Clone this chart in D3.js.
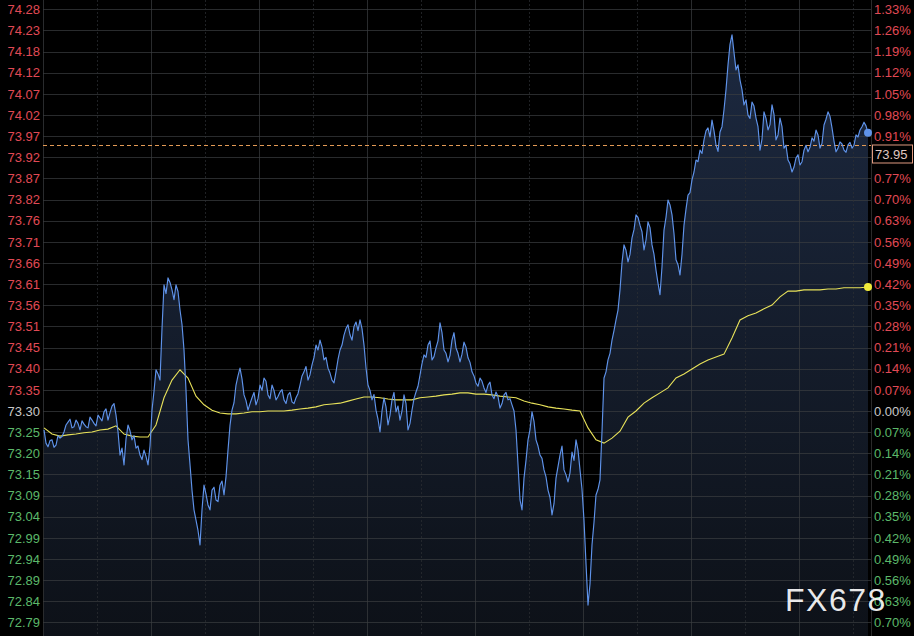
<!DOCTYPE html>
<html>
<head>
<meta charset="utf-8">
<script src="https://cdn.jsdelivr.net/npm/d3@7/dist/d3.min.js"></script>
<style>
html,body{margin:0;padding:0;background:#000;}
svg{display:block;}
text{font-family:"Liberation Sans",Arial,sans-serif;}
</style>
</head>
<body>
<svg id="chart" width="914" height="636"></svg>
<script>
// ---- data ----
const basePrice = 73.30;
const tickPercents = [1.33,1.26,1.19,1.12,1.05,0.98,0.91,0.84,0.77,0.70,0.63,0.56,0.49,0.42,0.35,0.28,0.21,0.14,0.07,0.00,-0.07,-0.14,-0.21,-0.28,-0.35,-0.42,-0.49,-0.56,-0.63,-0.70];
const leftTickLabels = ["74.28","74.23","74.18","74.12","74.07","74.02","73.97","73.92","73.87","73.82","73.76","73.71","73.66","73.61","73.56","73.51","73.45","73.40","73.35","73.30","73.25","73.20","73.15","73.09","73.04","72.99","72.94","72.89","72.84","72.79"];
const rightTickLabels = ["1.33%","1.26%","1.19%","1.12%","1.05%","0.98%","0.91%","0.84%","0.77%","0.70%","0.63%","0.56%","0.49%","0.42%","0.35%","0.28%","0.21%","0.14%","0.07%","0.00%","0.07%","0.14%","0.21%","0.28%","0.35%","0.42%","0.49%","0.56%","0.63%","0.70%"];

const priceSeries = [
73.254,73.222,73.213,73.228,73.230,73.212,73.217,73.240,73.234,73.238,
73.249,73.266,73.273,73.280,73.259,73.262,73.278,73.270,73.254,73.276,
73.268,73.262,73.259,73.285,73.278,73.270,73.264,73.290,73.283,73.276,
73.298,73.305,73.278,73.296,73.312,73.318,73.290,73.250,73.193,73.210,
73.169,73.232,73.266,73.252,73.230,73.240,73.210,73.215,73.193,73.182,
73.205,73.190,73.169,73.215,73.302,73.348,73.400,73.390,73.375,73.500,
73.606,73.585,73.623,73.612,73.594,73.570,73.606,73.590,73.545,73.510,
73.448,73.350,73.230,73.170,73.108,73.060,73.035,73.010,72.975,73.060,
73.120,73.098,73.072,73.060,73.108,73.115,73.084,73.080,73.120,73.130,
73.096,73.140,73.205,73.265,73.302,73.320,73.363,73.385,73.404,73.378,
73.339,73.325,73.302,73.318,73.332,73.345,73.315,73.330,73.363,73.350,
73.380,73.372,73.339,73.330,73.363,73.350,73.327,73.335,73.346,73.352,
73.327,73.318,73.339,73.345,73.322,73.318,73.332,73.342,73.363,73.385,
73.395,73.408,73.375,73.388,73.412,73.430,73.460,73.448,73.472,73.455,
73.424,73.430,73.404,73.392,73.375,73.368,73.395,73.425,73.448,73.460,
73.484,73.500,73.509,73.485,73.472,73.505,73.516,73.495,73.521,73.500,
73.460,73.405,73.363,73.350,73.327,73.340,73.302,73.280,73.249,73.300,
73.332,73.310,73.266,73.290,73.327,73.345,73.298,73.312,73.278,73.300,
73.339,73.318,73.254,73.270,73.302,73.330,73.346,73.360,73.387,73.415,
73.436,73.430,73.460,73.470,73.424,73.432,73.453,73.470,73.514,73.490,
73.448,73.440,73.419,73.435,73.472,73.490,73.453,73.440,73.419,73.438,
73.467,73.455,73.429,73.418,73.395,73.385,73.368,73.360,73.380,73.372,
73.356,73.345,73.363,73.370,73.339,73.330,73.346,73.335,73.307,73.318,
73.339,73.345,73.327,73.330,73.315,73.300,73.254,73.170,73.084,73.060,
73.137,73.180,73.230,73.255,73.298,73.275,73.230,73.215,73.193,73.185,
73.157,73.140,73.108,73.090,73.048,73.075,73.137,73.165,73.193,73.215,
73.157,73.145,73.128,73.150,73.200,73.180,73.230,73.205,73.157,73.110,
73.035,72.930,72.829,72.880,72.975,73.030,73.096,73.110,73.133,73.250,
73.380,73.395,73.424,73.440,73.472,73.495,73.521,73.545,73.594,73.660,
73.703,73.690,73.662,73.680,73.720,73.740,73.776,73.770,73.751,73.735,
73.691,73.715,73.759,73.745,73.703,73.680,73.642,73.610,73.582,73.650,
73.739,73.770,73.812,73.800,73.776,73.730,73.667,73.655,73.630,73.680,
73.751,73.790,73.824,73.830,73.861,73.880,73.909,73.905,73.933,73.925,
73.958,73.980,73.987,73.965,74.006,73.980,73.946,73.930,73.977,73.990,
74.031,74.080,74.140,74.190,74.213,74.170,74.128,74.140,74.103,74.080,
74.043,74.055,74.018,74.010,74.050,74.040,74.011,73.990,73.933,73.960,
74.026,74.010,73.982,73.995,74.043,74.020,73.958,73.970,74.011,73.990,
73.938,73.945,73.909,73.900,73.880,73.892,73.914,73.922,73.897,73.905,
73.933,73.945,73.929,73.940,73.963,73.955,73.982,73.970,73.938,73.950,
73.994,74.008,74.026,74.015,73.987,73.955,73.929,73.938,73.953,73.948,
73.933,73.928,73.946,73.952,73.938,73.945,73.970,73.965,73.982,73.990,
74.001,73.992,73.975
];

const avgSeries = [
73.259,73.244,73.239,73.242,73.244,73.247,73.249,73.254,73.256,73.264,
73.244,73.239,73.237,73.237,73.266,73.332,73.375,73.400,73.380,73.336,
73.315,73.302,73.295,73.293,73.293,73.295,73.298,73.298,73.300,73.300,
73.300,73.302,73.305,73.307,73.310,73.315,73.317,73.319,73.324,73.329,
73.334,73.334,73.332,73.329,73.327,73.327,73.327,73.332,73.334,73.336,
73.339,73.341,73.344,73.344,73.341,73.341,73.339,73.336,73.334,73.332,
73.324,73.319,73.315,73.310,73.307,73.305,73.302,73.300,73.259,73.230,
73.222,73.234,73.251,73.285,73.300,73.319,73.332,73.344,73.356,73.380,
73.390,73.402,73.414,73.424,73.431,73.438,73.477,73.521,73.531,73.538,
73.548,73.557,73.577,73.591,73.591,73.594,73.594,73.594,73.596,73.596,
73.599,73.599,73.599,73.601
];

const refPrice = 73.945;
const refLabel = "73.95";
const watermark = "FX678";

// ---- layout ----
const W = 914, H = 636;
const plotL = 43, plotR = 871;
const svg = d3.select("#chart");

const y = d3.scaleLinear()
  .domain([basePrice*(1-0.007), basePrice*(1+0.0133)])
  .range([622.4, 9.3]);
const x = d3.scaleLinear().domain([0, priceSeries.length-1]).range([44, 868]);
const xAvg = d3.scaleLinear().domain([0, avgSeries.length-1]).range([44, 868]);

svg.append("rect").attr("width", W).attr("height", H).attr("fill", "#000");

const defs = svg.append("defs");
const grad = defs.append("linearGradient").attr("id","areaGrad")
  .attr("gradientUnits","userSpaceOnUse").attr("x1",0).attr("y1",0).attr("x2",0).attr("y2",H);
grad.append("stop").attr("offset","0").attr("stop-color","#1d2a42");
grad.append("stop").attr("offset","1").attr("stop-color","#0d1118");

// area
const area = d3.area().x((d,i)=>x(i)).y0(H).y1(d=>y(d));
svg.append("path").datum(priceSeries).attr("d", area).attr("fill","url(#areaGrad)");

// grid
const grid = svg.append("g");
tickPercents.forEach(p=>{
  const yy = Math.round(y(basePrice*(1+p/100)))+0.5;
  grid.append("line").attr("x1",plotL).attr("x2",plotR).attr("y1",yy).attr("y2",yy)
    .attr("stroke","#3a3d40").attr("stroke-opacity",0.7).attr("stroke-width",1);
});
const vStep = 108;
for (let gx = plotL; gx < plotR; gx += vStep) {
  grid.append("line").attr("x1",gx+0.5).attr("x2",gx+0.5).attr("y1",0).attr("y2",H)
    .attr("stroke","#3a3d40").attr("stroke-opacity",0.7);
  const dx = gx + vStep/2;
  if (dx < plotR) grid.append("line").attr("x1",dx+0.5).attr("x2",dx+0.5).attr("y1",0).attr("y2",H)
    .attr("stroke","#2c2f33").attr("stroke-opacity",0.7).attr("stroke-dasharray","2,2");
}
grid.append("line").attr("x1",plotR+0.5).attr("x2",plotR+0.5).attr("y1",0).attr("y2",H)
  .attr("stroke","#2a2a2a");

// reference dashed line
const ry = Math.round(y(refPrice))+0.5;
svg.append("line").attr("x1",plotL).attr("x2",plotR).attr("y1",ry).attr("y2",ry)
  .attr("stroke","#e39a55").attr("stroke-width",1).attr("stroke-dasharray","4,3");

// avg line
svg.append("path").datum(avgSeries)
  .attr("d", d3.line().x((d,i)=>xAvg(i)).y(d=>y(d)))
  .attr("fill","none").attr("stroke","#e8e25a").attr("stroke-width",1.1);

// price line
svg.append("path").datum(priceSeries)
  .attr("d", d3.line().x((d,i)=>x(i)).y(d=>y(d)))
  .attr("fill","none").attr("stroke","#5f93ea").attr("stroke-width",1.15).attr("stroke-linejoin","round");

// end dots
svg.append("circle").attr("cx", x(priceSeries.length-1)).attr("cy", y(priceSeries[priceSeries.length-1]))
  .attr("r",4).attr("fill","#5f93ea");
svg.append("circle").attr("cx", xAvg(avgSeries.length-1)).attr("cy", y(avgSeries[avgSeries.length-1]))
  .attr("r",4).attr("fill","#f0ea3a");

// axes labels
const colorFor = p => p > 0 ? "#e04a55" : (p < 0 ? "#5cb86a" : "#c8c8c8");
const leftG = svg.append("g");
tickPercents.forEach((p,i)=>{
  leftG.append("text").attr("x",40).attr("y", y(basePrice*(1+p/100)))
    .attr("dy","0.36em").attr("text-anchor","end").attr("font-size",13)
    .attr("fill", colorFor(p)).text(leftTickLabels[i]);
});
const boxTop = ry - 0.5, boxH = 18;
const rightG = svg.append("g");
tickPercents.forEach((p,i)=>{
  const ty = y(basePrice*(1+p/100));
  if (ty > boxTop - 4 && ty < boxTop + boxH + 4) return; // hidden behind price box
  rightG.append("text").attr("x",874).attr("y", ty)
    .attr("dy","0.36em").attr("text-anchor","start").attr("font-size",13)
    .attr("fill", colorFor(p)).text(rightTickLabels[i]);
});

// ref label box
const boxG = svg.append("g");
boxG.append("rect").attr("x",872.5).attr("y",boxTop).attr("width",40).attr("height",boxH)
  .attr("fill","#000").attr("stroke","#e09a80").attr("stroke-width",1);
boxG.append("text").attr("x",875).attr("y",ry+9).attr("dy","0.36em").attr("font-size",13)
  .attr("fill","#e0c8c0").text(refLabel);

// watermark
svg.append("text").attr("x",785).attr("y",611).attr("font-size",32)
  .attr("letter-spacing",1.5).attr("fill","#ffffff").attr("fill-opacity",0.92).text(watermark);
</script>
</body>
</html>
